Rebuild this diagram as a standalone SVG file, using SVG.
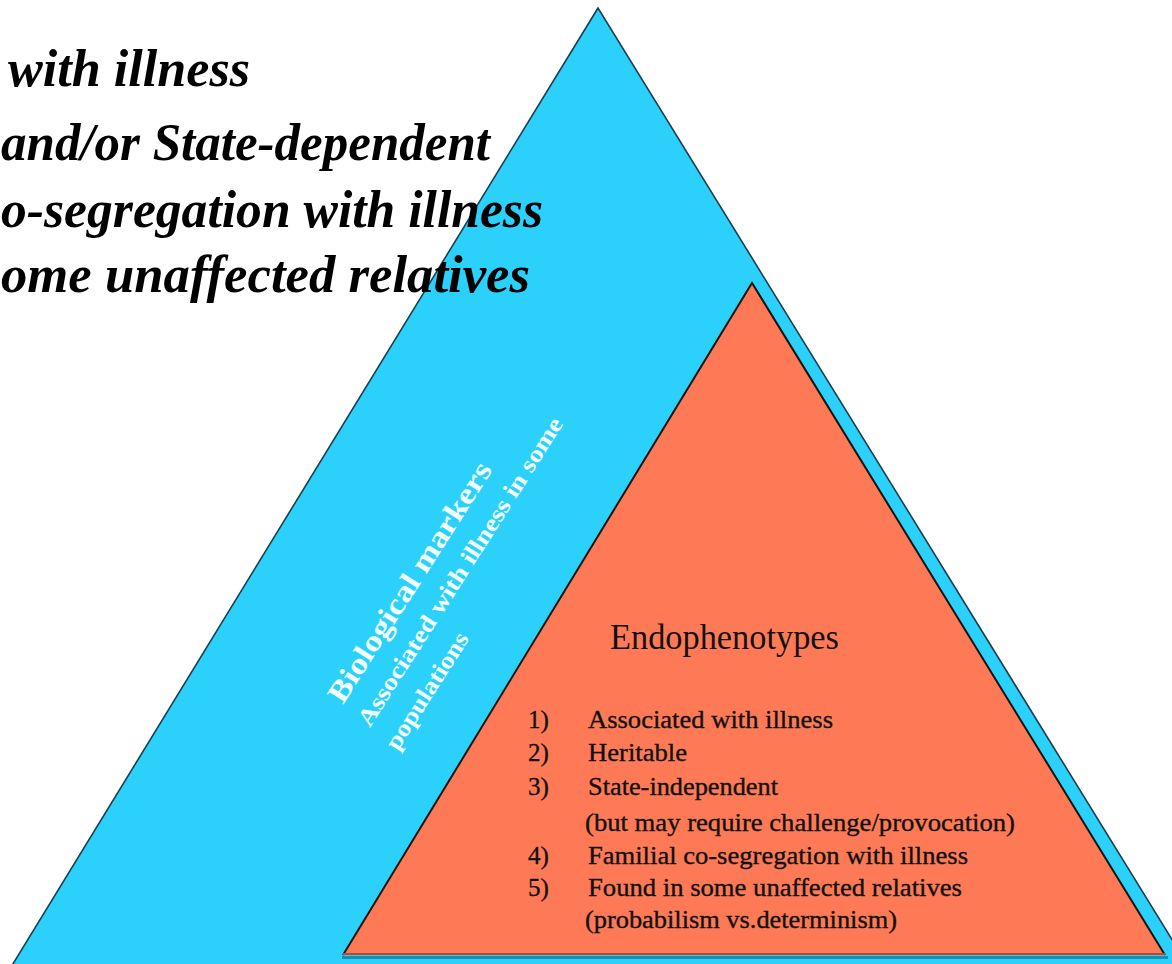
<svg xmlns="http://www.w3.org/2000/svg" width="1172" height="964" viewBox="0 0 1172 964">
  <style>
    .big { font-family: "Liberation Serif", "Times New Roman", serif; font-weight: bold; font-style: italic; font-size: 52px; fill: #000; }
    .rot1 { font-family: "Liberation Serif", "Times New Roman", serif; font-weight: bold; font-size: 30px; fill: #f2ffff; }
    .rot2 { font-family: "Liberation Serif", "Times New Roman", serif; font-weight: bold; font-size: 24px; fill: #f2ffff; }
    .title { font-family: "Liberation Serif", "Times New Roman", serif; font-size: 36px; fill: #111; }
    .item { font-family: "Liberation Serif", "Times New Roman", serif; font-size: 25px; fill: #111; stroke: #111; stroke-width: 0.35px; }
  </style>
  <rect width="1172" height="964" fill="#ffffff"/>

  <g id="outer-triangle">
    <polygon points="598,8 8,972 1192,972" fill="#2bd1fb" stroke="#1c3f4e" stroke-width="1.6" stroke-linejoin="miter"/>
  </g>

  <g id="inner-triangle">
    <polygon points="752,283 343,955 1165,955" fill="#fe7a56"/>
    <polyline points="343,955 752,283 1165,955" fill="none" stroke="#1a1410" stroke-width="2"/>
    <line x1="343" y1="954" x2="1165" y2="954" stroke="#b44a32" stroke-width="2"/>
    <line x1="342" y1="957.5" x2="1168" y2="957.5" stroke="#168fb0" stroke-width="3"/>
  </g>

  <g id="left-text">
    <text class="big" x="8" y="86" textLength="242" lengthAdjust="spacingAndGlyphs">with illness</text>
    <text class="big" x="1" y="160" textLength="489" lengthAdjust="spacingAndGlyphs">and/or State-dependent</text>
    <text class="big" x="1" y="227" textLength="542" lengthAdjust="spacingAndGlyphs">o-segregation with illness</text>
    <text class="big" x="1" y="292" textLength="529" lengthAdjust="spacingAndGlyphs">ome unaffected relatives</text>
  </g>

  <g id="biomarker-label" transform="translate(343,705) rotate(-57.5)">
    <text class="rot1" x="0" y="0" textLength="279" lengthAdjust="spacingAndGlyphs">Biological markers</text>
    <text class="rot2" x="-5" y="35" textLength="361" lengthAdjust="spacingAndGlyphs">Associated with illness in some</text>
    <text class="rot2" x="-10" y="71" textLength="134" lengthAdjust="spacingAndGlyphs">populations</text>
  </g>

  <g id="endophenotype-label">
    <text class="title" x="610" y="649" textLength="229" lengthAdjust="spacingAndGlyphs">Endophenotypes</text>
    <text class="item" x="528" y="728">1)</text>
    <text class="item" x="588" y="728" textLength="245" lengthAdjust="spacingAndGlyphs">Associated with illness</text>
    <text class="item" x="528" y="761">2)</text>
    <text class="item" x="588" y="761" textLength="99" lengthAdjust="spacingAndGlyphs">Heritable</text>
    <text class="item" x="528" y="795">3)</text>
    <text class="item" x="588" y="795" textLength="190" lengthAdjust="spacingAndGlyphs">State-independent</text>
    <text class="item" x="585" y="831" textLength="430" lengthAdjust="spacingAndGlyphs">(but may require challenge/provocation)</text>
    <text class="item" x="528" y="864">4)</text>
    <text class="item" x="588" y="864" textLength="380" lengthAdjust="spacingAndGlyphs">Familial co-segregation with illness</text>
    <text class="item" x="528" y="896">5)</text>
    <text class="item" x="588" y="896" textLength="374" lengthAdjust="spacingAndGlyphs">Found in some unaffected relatives</text>
    <text class="item" x="585" y="928" textLength="312" lengthAdjust="spacingAndGlyphs">(probabilism vs.determinism)</text>
  </g>

  <g id="connectors"/>
</svg>
